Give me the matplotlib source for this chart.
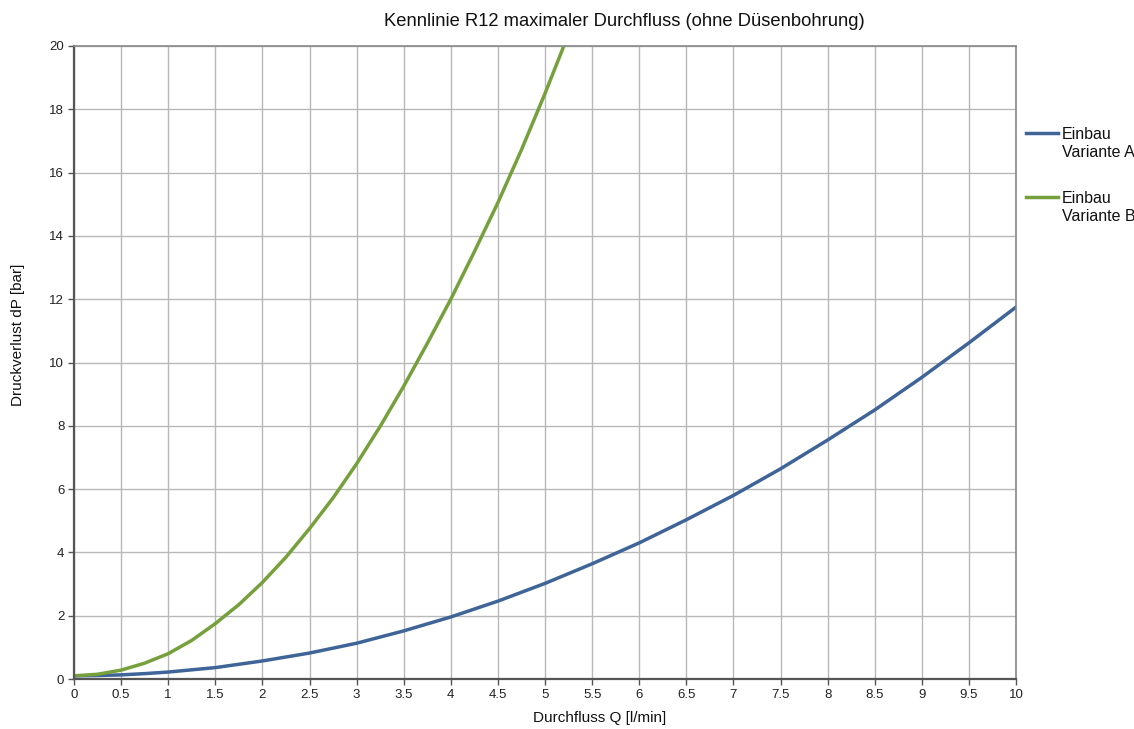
import matplotlib
matplotlib.use('Agg')
import matplotlib.pyplot as plt
from matplotlib.lines import Line2D
import numpy as np

plt.rcParams['font.family'] = ['Liberation Sans', 'DejaVu Sans']

# Durchfluss Q [l/min] / Druckverlust dP [bar]
q_a = [0, 0.25, 0.5, 0.75, 1, 1.5, 2, 2.5, 3, 3.5, 4, 4.5, 5, 5.5, 6, 6.5, 7, 7.5, 8, 8.5, 9, 9.5, 10]
dp_a = [0.1, 0.11, 0.13, 0.17, 0.22, 0.36, 0.57, 0.82, 1.13, 1.52, 1.96, 2.46, 3.02, 3.64, 4.3,
        5.03, 5.8, 6.64, 7.55, 8.5, 9.53, 10.62, 11.75]

q_b = [0, 0.25, 0.5, 0.75, 1, 1.25, 1.5, 1.75, 2, 2.25, 2.5, 2.75, 3, 3.25, 3.5, 3.75,
       4, 4.25, 4.5, 4.75, 5, 5.2]
dp_b = [0.1, 0.15, 0.28, 0.5, 0.8, 1.22, 1.75, 2.35, 3.05, 3.85, 4.75, 5.72, 6.8, 7.98, 9.25,
        10.6, 12.0, 13.5, 15.05, 16.72, 18.5, 20.0]

labels = ['Einbau\nVariante A', 'Einbau\nVariante B']
colors = ['#3f6497', '#76a03c']

x_ticks = np.arange(0, 10.01, 0.5)
x_tick_labels = ['0', '0.5', '1', '1.5', '2', '2.5', '3', '3.5', '4', '4.5', '5',
                 '5.5', '6', '6.5', '7', '7.5', '8', '8.5', '9', '9.5', '10']
y_ticks = np.arange(0, 21, 2)

W, H = 1134, 729
fig = plt.figure(figsize=(W / 100, H / 100), dpi=100)
ax = fig.add_axes([74 / W, 1 - 679 / H, 942 / W, 633 / H])

ax.plot(q_a, dp_a, color=colors[0], lw=2.5, solid_capstyle='round', solid_joinstyle='round')
ax.plot(q_b, dp_b, color=colors[1], lw=2.5, solid_capstyle='round', solid_joinstyle='round')

ax.set_xlim(0, 10)
ax.set_ylim(0, 20)
ax.set_xticks(x_ticks)
ax.set_xticklabels(x_tick_labels)
ax.set_yticks(y_ticks)
ax.tick_params(labelsize=9.5, length=4, width=1, color='#555555', pad=3, labelcolor='#222222')
ax.grid(True, color='#b8b8b8', lw=1)
ax.set_axisbelow(True)

for s in ['left', 'bottom']:
    ax.spines[s].set_color('#555555')
    ax.spines[s].set_linewidth(1.6)
for s in ['top', 'right']:
    ax.spines[s].set_color('#888888')
    ax.spines[s].set_linewidth(1.2)

fig.text(624 / W, 1 - 22 / H, 'Kennlinie R12 maximaler Durchfluss (ohne Düsenbohrung)',
         fontsize=13.2, ha='center', va='center', color='#111111')
ax.set_xlabel('Durchfluss Q [l/min]', fontsize=11, color='#111111')
ax.xaxis.set_label_coords((600 - 74) / 942, (679 - 718) / 633)
ax.set_ylabel('Druckverlust dP [bar]', fontsize=11, color='#111111')
ax.yaxis.set_label_coords((18 - 74) / 942, (679 - 335) / 633)
ax.xaxis.label.set_va('center')
ax.yaxis.label.set_va('center')

# legend drawn by hand: handle is level with the first text line
for (ly, lab, c) in [(133, labels[0], colors[0]), (197, labels[1], colors[1])]:
    fig.add_artist(Line2D([1026 / W, 1058 / W], [1 - ly / H, 1 - ly / H],
                          color=c, lw=2.5, transform=fig.transFigure))
    fig.text(1062 / W, 1 - (ly - 6) / H, lab, fontsize=11.5, ha='left', va='top',
             linespacing=1.22, color='#111111')

plt.savefig('out.png')
